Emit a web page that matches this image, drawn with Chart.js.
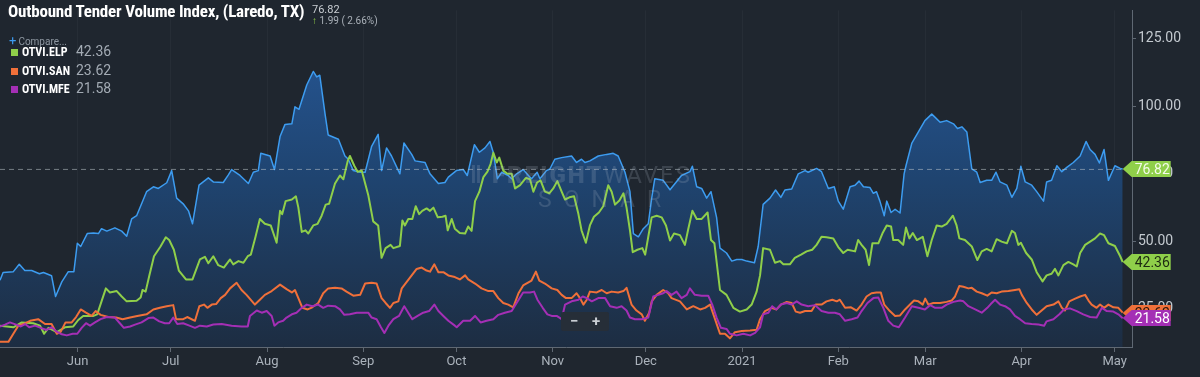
<!DOCTYPE html>
<html>
<head>
<meta charset="utf-8">
<script src="https://cdn.jsdelivr.net/npm/chart.js@4.4.1/dist/chart.umd.min.js"></script>
<style>
body{margin:0;background:#1f262f;overflow:hidden;font-family:Roboto,"Open Sans",sans-serif}
#wrap{position:relative;width:1200px;height:377px}
#myChart{position:absolute;left:0;top:0}
.title{position:absolute;left:8px;top:1px;color:#fff;font-weight:bold;font-size:17px;letter-spacing:-0.2px;
  font-family:"Roboto Condensed","Liberation Sans Narrow","DejaVu Sans Condensed",Roboto,sans-serif;font-stretch:condensed;white-space:nowrap}
.last{position:absolute;left:312px;top:3px;color:#c9ced3;font-size:11px}
.chg{position:absolute;left:312px;top:15px;color:#aab1b9;font-size:10px}
.chg span{color:#8fcf4a}
.compare{position:absolute;left:9px;top:33px;color:#8e97a1;font-size:10px}
.compare b{color:#3d9cf0;font-size:13px;font-weight:normal;margin-right:2px}
.leg{position:absolute;left:11px;font-size:12px;color:#fff;font-weight:bold;white-space:nowrap;
  font-family:"Roboto Condensed","Liberation Sans Narrow","DejaVu Sans Condensed",Roboto,sans-serif;font-stretch:condensed}
.leg i{display:inline-block;width:7px;height:7px;margin-right:4px;vertical-align:0}
.leg em{position:absolute;left:65px;top:-2px;font-style:normal;font-weight:normal;color:#a3abb4;font-size:14px;font-family:Roboto,sans-serif;font-stretch:normal}
.wm{position:absolute;left:470px;top:161px;font-size:24px;color:rgba(175,185,200,0.2);letter-spacing:2px;white-space:nowrap}
.wm b{font-weight:900}
.wm2{position:absolute;left:538px;top:186px;font-size:23px;color:rgba(175,185,200,0.2);letter-spacing:12px}
.zoomb{position:absolute;left:561px;top:312px;width:48px;height:19px;background:#262e38;border-radius:2px;color:#c9ced3;font-size:15px;font-weight:bold}
.zoomb span{position:absolute;top:0}
</style>
</head>
<body>
<div id="wrap">
<canvas id="myChart" width="1200" height="377"></canvas>
<div class="wm"><b>&#8214; FREIGHT</b>WAVES</div>
<div class="wm2">SONAR</div>
<div class="zoomb"><span style="left:9px">&minus;</span><span style="left:31px">+</span></div>
<div class="title">Outbound Tender Volume Index, (Laredo, TX)</div>
<div class="last">76.82</div>
<div class="chg"><span>&#x2191;</span> 1.99 ( 2.66%)</div>
<div class="compare"><b>+</b>Compare...</div>
<div class="leg" style="top:45px"><i style="background:#8fcf4a"></i>OTVI.ELP<em>42.36</em></div>
<div class="leg" style="top:64px"><i style="background:#f0703a"></i>OTVI.SAN<em>23.62</em></div>
<div class="leg" style="top:82px"><i style="background:#a42fb5"></i>OTVI.MFE<em>21.58</em></div>
</div>
<script>
var monthDays=[25,55,86,117,147,178,208,239,270,298,329,359]
var monthLabels=['Jun','Jul','Aug','Sep','Oct','Nov','Dec','2021','Feb','Mar','Apr','May']
var yTicks=[25,50,75,100,125]

var laredo=[[0,35.6],[1,38.5],[4.3,38.8],[6.2,41.5],[8,39.2],[10.2,39.2],[12.7,38.0],[14,38.5],[16.6,37.3],[17.9,29.6],[19.9,35.0],[22,38.8],[23.8,38.8],[24.9,49.3],[26,48.1],[28.1,52.9],[30.1,53.1],[31.7,52.9],[32.7,54.7],[34.4,53.8],[37,55.0],[39.2,53.8],[40.8,51.9],[42.4,58.3],[44,59.5],[47.2,68.4],[49.4,70.2],[51,69.6],[53.7,71.7],[55.3,76.2],[56.9,66.0],[59,63.9],[60.7,61.3],[62,56.5],[64.1,70.8],[67.1,73.5],[68.7,72.0],[71.9,71.8],[73.5,74.5],[74.6,76.6],[77.3,74.4],[80,71.4],[81.6,75.6],[83.2,76.2],[84,82.6],[87,81.6],[88.4,76.6],[90.2,88.8],[91.8,93.3],[94,93.5],[95,99.8],[96.3,98.9],[98.8,107.9],[100.9,112.9],[102,110.9],[103,111.5],[104.7,97.1],[105.7,89.4],[109,87.8],[111.1,81.6],[112.2,80.4],[113.8,76.2],[116,75.6],[117.6,75.6],[119.7,85.2],[121.8,89.6],[122.9,76.2],[124.5,84.6],[126.1,81.6],[128.8,75.0],[130.1,86.4],[132.6,82.2],[133.7,79.8],[136.9,79.2],[138.5,75.0],[141.2,71.4],[143.3,71.8],[144.4,73.8],[147,76.2],[149.2,76.6],[150.5,74.4],[152.8,85.8],[154.4,83.0],[156.2,84.6],[157.8,87.0],[158.9,82.8],[160.2,73.2],[161.6,75.6],[163.7,74.4],[164.8,73.2],[166.4,75.0],[168.5,76.6],[170.2,74.4],[171.2,73.2],[173,75.6],[173.9,73.2],[176,76.2],[177.1,76.8],[178.7,80.4],[180.9,81.0],[184.1,81.6],[185.7,79.2],[187.3,80.4],[188.4,79.2],[190,79.8],[192.7,81.6],[195.4,82.2],[197.5,82.6],[199.1,81.6],[201.3,75.6],[202.9,68.4],[204,52.9],[205.6,51.7],[207.2,54.7],[208.8,56.5],[209.9,66.0],[210.9,73.2],[213.6,72.6],[215.8,69.1],[219.5,74.4],[222.2,75.8],[223,77.8],[224.4,70.2],[226,69.6],[227.6,66.0],[229,68.4],[230.8,58.9],[231.9,47.5],[234,45.7],[235.7,42.7],[237.3,43.3],[238.9,43.3],[240.5,42.7],[243,42.1],[244.2,48.1],[245.8,63.7],[248,66.0],[249.8,69.0],[251.5,66.3],[252.8,69.0],[255,69.4],[257.1,75.0],[259.3,76.2],[260.3,75.6],[263,77.0],[264.6,75.8],[266.8,69.6],[268.7,70.2],[270,64.9],[271.6,61.9],[273.8,70.2],[275.4,70.8],[276.7,72.3],[278.1,70.2],[280.2,69.9],[281.3,67.8],[282.3,68.4],[283.4,64.9],[284.8,59.5],[285.6,64.9],[287,60.7],[288.3,61.9],[289.9,60.5],[291.2,75.0],[291.8,78.0],[293.7,86.4],[295.8,90.5],[297.9,94.7],[300.1,97.1],[301.2,95.9],[302.8,94.1],[304.9,94.7],[307.1,93.5],[308.4,91.8],[309.8,92.4],[311.4,90.5],[313,76.8],[314.6,75.6],[315.7,71.8],[317.8,72.6],[319.4,72.6],[320.8,75.6],[322.1,72.0],[324.3,70.8],[325.9,66.3],[327.5,69.6],[328.8,77.8],[330.2,72.0],[332.3,70.8],[333.9,68.4],[336.1,64.9],[337.1,72.0],[338.7,72.6],[340.4,78.0],[342,75.8],[343.6,77.4],[345.7,79.2],[347.9,81.6],[349.8,87.0],[351.1,84.0],[352.7,82.2],[354.1,79.0],[355.6,84.0],[357,72.6],[359.1,78.0],[360.8,77.0],[361.6,76.82]]

var elPaso=[[0,18.8],[4.3,18.2],[7,20.0],[10.7,19.7],[12.9,18.8],[14.2,15.8],[15.6,18.0],[18.3,16.4],[20.9,18.2],[23.6,18.5],[25.2,20.9],[26.8,22.4],[30.1,22.4],[31.3,23.0],[32.7,27.8],[34.1,32.6],[35.4,31.1],[37.6,31.6],[39.2,29.6],[40.8,27.8],[44,28.0],[45.3,29.2],[45.9,32.0],[46.9,31.4],[48.1,37.4],[49.6,44.5],[51.7,48.1],[53.4,51.5],[54.5,50.5],[56,46.9],[57.6,39.2],[59.9,35.9],[62,35.9],[64.4,43.3],[66,44.3],[67.1,41.9],[68.7,44.5],[70.3,41.2],[72.1,40.3],[74.1,43.3],[75.1,41.5],[76.8,42.7],[78.4,42.1],[79.8,44.5],[80.8,45.1],[82.3,51.7],[83.7,58.3],[85.3,56.5],[87.2,55.9],[89.1,49.5],[90.2,61.3],[90.9,60.1],[92,64.9],[94,65.5],[95.3,66.7],[96.1,62.5],[97.2,53.5],[98.4,54.1],[99.3,52.9],[100.9,55.9],[102.3,56.5],[103.6,59.5],[104.9,63.6],[106,63.9],[107.9,71.4],[109.5,74.4],[110.6,73.0],[112,79.8],[112.7,81.6],[114.1,78.0],[115.2,75.8],[116.5,76.2],[118.6,67.2],[120.2,57.4],[121.8,55.9],[122.9,43.9],[124.2,47.5],[125.8,48.7],[126.7,47.5],[128.8,48.3],[129.6,57.7],[130.4,55.9],[131.5,58.3],[132.8,58.3],[133.9,63.0],[135,60.1],[136,61.3],[137.4,62.2],[138.5,61.3],[139.6,62.5],[141,58.9],[142.5,59.1],[143.5,59.5],[144.2,54.1],[145.5,58.3],[146.5,54.7],[148.1,53.1],[149.8,52.9],[150.8,55.5],[151.9,53.9],[153,64.9],[154.4,68.4],[155.7,73.8],[157,75.8],[158,78.6],[158.9,82.8],[160,79.2],[160.8,81.0],[162.1,76.2],[163.4,75.0],[164.8,75.0],[165.9,69.6],[167.5,70.8],[169.4,73.5],[170.7,73.0],[171.8,68.4],[173,71.8],[174.1,72.6],[175.5,68.4],[176.9,67.8],[178.2,69.6],[179.5,72.3],[180.9,68.4],[182,65.5],[183.4,66.3],[184.9,66.7],[186.3,60.1],[187.3,54.1],[188.7,49.5],[190,55.9],[191.3,59.1],[192.9,60.7],[194.3,63.0],[195.9,70.8],[197,68.4],[198.1,63.6],[199.5,65.1],[200.8,67.8],[201.8,62.5],[202.9,54.1],[203.8,46.0],[205.3,46.9],[206.9,47.5],[207.8,45.1],[208.8,51.7],[209.9,58.9],[211.5,59.5],[213.1,58.9],[214.5,55.9],[215.8,50.3],[217.1,52.9],[219,52.3],[220.6,48.7],[221.7,54.7],[223,61.3],[224.4,58.3],[226,58.3],[227.9,60.7],[229,50.5],[230.1,49.3],[231.9,32.0],[234,30.2],[236.2,25.4],[238.3,24.0],[240.5,24.8],[242.1,26.6],[243.7,31.4],[244.8,37.4],[245.8,47.5],[248,46.9],[249.6,42.1],[251.2,42.7],[252.3,41.5],[254.4,41.5],[256,43.9],[258,45.1],[259.8,46.3],[261.6,46.9],[263,48.7],[264.6,51.7],[266.2,51.5],[268.4,51.1],[270,47.9],[271.6,45.7],[273,46.9],[275.4,46.3],[276.4,50.5],[277.5,48.7],[278.8,46.9],[279.9,41.2],[281,49.3],[282.9,49.3],[284.2,52.9],[285.6,55.9],[287,55.5],[287.7,50.5],[289.3,50.5],[290.9,48.7],[291.8,55.1],[292.9,51.1],[294,53.1],[295.3,50.5],[297.2,51.7],[298.7,44.5],[300.1,50.5],[301.7,55.9],[303.3,55.5],[304.9,56.5],[306.9,59.5],[308.1,55.9],[309,51.1],[310.8,50.5],[313,48.1],[314.8,43.1],[316.2,46.3],[317.8,47.2],[319.4,46.3],[321,50.8],[322.6,49.9],[324.3,49.3],[325.9,53.9],[326.9,53.1],[328,48.7],[328.8,49.5],[330.5,45.7],[332.3,43.3],[333.9,38.6],[335.8,35.2],[337.1,37.4],[338.7,38.0],[339.8,39.8],[340.9,37.4],[342.5,41.2],[344.1,42.4],[345.7,41.5],[346.8,40.7],[347.9,45.7],[349.5,48.7],[351.1,49.9],[352.7,51.1],[354.3,52.9],[355.6,52.3],[357,49.3],[359.1,48.3],[360.8,44.5],[361.6,42.36]]

var sanAntonio=[[0,12.8],[2.7,12.8],[4.3,15.8],[5.9,18.8],[7.5,19.4],[9.7,20.6],[12.3,21.2],[14.5,19.4],[16.6,19.4],[18.3,15.8],[19.5,16.4],[21.1,20.0],[23.1,20.0],[24.5,22.0],[26,24.8],[27.7,23.6],[29.5,22.4],[30.8,24.2],[32.4,22.8],[34.9,22.0],[37.4,21.8],[39.5,21.2],[41.9,21.8],[44.2,22.4],[47.2,23.0],[49.4,24.8],[51.5,25.4],[53.7,26.0],[55.8,26.4],[56.7,21.2],[59,21.2],[60.3,22.0],[62.8,20.6],[64.2,26.0],[65.7,26.6],[66.8,25.4],[68.2,26.6],[69.6,26.8],[71.1,29.0],[72.5,30.2],[74.1,32.6],[76.2,34.7],[77.8,32.0],[79.4,30.2],[82.1,26.6],[83.7,28.4],[85.3,30.2],[87.5,31.6],[90.2,34.0],[92.3,32.3],[94,31.1],[95,32.0],[96.1,29.0],[97.4,25.4],[99.1,24.8],[100.6,25.6],[102.5,27.2],[104.1,30.8],[105.7,32.6],[107.9,32.8],[110,32.6],[111.6,31.4],[113.8,29.9],[116,30.2],[117.6,34.4],[119.7,34.7],[121.3,34.4],[122.9,29.0],[124.2,27.2],[125.6,25.4],[126.7,27.2],[128.3,27.8],[129.4,32.6],[131,35.0],[132.6,37.4],[134.2,39.8],[135.8,40.3],[137.4,39.2],[138.5,38.8],[139.9,41.5],[141.2,38.6],[142.8,38.6],[144.4,37.4],[146.5,36.8],[148.1,35.9],[149.8,37.4],[150.8,35.9],[153,34.4],[155.1,32.6],[157.3,31.6],[158.9,31.6],[160.5,29.0],[162.1,27.2],[163.7,26.6],[165.3,25.6],[167,30.8],[168.5,33.7],[171.2,35.5],[172.6,38.8],[173.7,35.5],[175.5,34.4],[177.7,32.6],[179.5,32.0],[180.9,30.2],[182.3,29.0],[184.1,29.0],[185.7,30.8],[186.8,29.0],[187.9,26.6],[189,28.4],[190,31.4],[192.2,31.1],[193.8,32.0],[195.4,30.8],[197,31.4],[199.1,31.1],[200.8,31.6],[201.8,32.8],[203.4,26.6],[205,24.4],[206.7,23.0],[207.7,20.6],[209.1,23.6],[209.9,27.8],[211.5,30.2],[213.6,32.0],[215.2,30.8],[216.3,29.0],[219,27.8],[221.2,24.8],[223.3,26.0],[225.5,24.8],[227.1,25.4],[228.7,26.6],[230.3,21.2],[231.9,15.8],[233.5,15.8],[235.1,14.1],[236.7,16.4],[238.9,16.8],[241.6,17.0],[243.7,17.3],[244.8,21.2],[246.4,24.2],[248.5,25.4],[250.1,24.8],[251.5,26.6],[253.4,27.6],[255,27.2],[256.3,24.0],[257.7,23.6],[259.3,24.2],[261.4,24.2],[262.7,26.6],[264.6,26.6],[266.2,27.8],[268.1,28.4],[269.5,27.8],[270.5,28.4],[272.2,25.4],[274.1,25.6],[275.9,24.4],[277.5,26.6],[279.1,29.6],[280.7,30.8],[282.3,31.1],[283.7,31.1],[284.8,26.6],[286.6,24.2],[288.3,22.4],[289.9,22.6],[291.5,24.8],[293.1,26.6],[294.4,28.1],[295.8,27.8],[297.2,26.6],[298,28.8],[299,26.6],[300.6,27.2],[302.8,27.2],[304.9,27.6],[306.5,28.1],[307.6,29.6],[309,33.5],[310.3,33.2],[311.9,32.6],[313,32.8],[314.6,31.4],[316.2,30.8],[318,29.9],[319.4,31.1],[321,30.8],[322.6,31.4],[324.8,31.6],[326.9,32.0],[328.3,32.3],[329.1,30.2],[330.7,27.2],[332.3,24.8],[333.9,22.8],[335.5,24.4],[337.1,26.0],[339.3,26.6],[340.9,27.8],[342,25.4],[343,24.4],[344.4,27.8],[346.3,28.8],[347.9,29.6],[349.5,30.2],[350.6,28.1],[351.6,26.6],[353.2,25.4],[354.3,26.6],[355.6,25.4],[357,26.6],[358.6,25.6],[360.2,25.4],[361.6,23.62]]

var mcAllen=[[0,18.5],[1.6,19.2],[3.2,20.0],[5.2,19.2],[6.7,18.5],[8.1,19.4],[9.4,18.2],[11.3,18.8],[13.1,18.0],[15,17.2],[16.6,18.2],[18,16.8],[19.9,15.6],[21.5,15.2],[23.4,15.8],[24.9,15.8],[26.3,18.0],[27.7,19.7],[29,18.8],[30.6,20.0],[32.4,21.2],[34.4,22.0],[37,21.8],[38.6,19.7],[39.9,18.0],[41.9,18.5],[43.5,19.2],[45.6,20.0],[47.8,21.6],[49.4,21.8],[51.3,20.4],[53.1,19.7],[54.5,19.7],[55.8,21.8],[57.1,19.4],[59,19.7],[61,18.8],[62.8,18.0],[64.4,18.8],[66.6,18.5],[68.7,19.2],[71.4,19.4],[74.6,18.8],[77.8,18.5],[79.8,18.5],[80.5,22.4],[82.7,24.4],[84.3,23.6],[85.9,24.2],[87.5,22.4],[88.4,18.8],[89.6,20.0],[91.2,20.6],[92.3,21.8],[94,23.0],[95.5,23.6],[97.2,25.4],[98.8,26.6],[100.6,26.0],[102.5,26.6],[104.1,25.4],[105.7,26.2],[107.9,26.0],[109.5,24.8],[110.9,22.8],[112.7,23.0],[114.9,23.6],[117,23.6],[118.6,23.6],[119.7,21.8],[121.3,21.2],[122.7,18.2],[123.8,16.1],[125.1,18.8],[126.7,21.2],[128.5,22.4],[130.2,26.0],[131.5,23.6],[132.8,21.2],[134.5,22.4],[136.3,23.6],[138.2,24.2],[139.9,26.6],[141.2,24.2],[142.8,22.4],[144.4,20.6],[146.5,18.8],[147.1,18.2],[149.2,20.6],[151.4,20.6],[153,22.4],[154.8,20.0],[156.7,20.6],[158.9,21.2],[160.5,22.8],[162.6,23.6],[164.8,24.2],[166.4,27.2],[168.5,31.1],[170.7,31.1],[172,31.4],[173.1,28.4],[174.8,25.4],[176.3,23.0],[177.7,22.4],[179.3,22.4],[180.9,21.2],[182,26.6],[184.1,27.8],[186.3,28.4],[187.7,29.6],[189,29.0],[190.6,27.8],[192.7,29.0],[194.9,29.0],[196.5,26.0],[198.6,25.4],[200.2,26.0],[201.8,24.4],[202.9,21.8],[204.5,21.2],[206.7,21.2],[208.8,21.8],[210.4,29.6],[212,30.2],[213.6,30.8],[214.7,31.6],[216.3,30.2],[217.9,31.4],[219.5,29.0],[221.2,30.2],[222.2,32.6],[223.8,30.2],[226,29.9],[228.1,29.9],[229.4,26.6],[230.8,21.8],[232.2,18.0],[234,17.6],[235.1,15.8],[237.3,15.2],[239.4,15.8],[241.6,15.2],[243.2,16.1],[244.8,18.2],[245.8,23.0],[247.5,23.6],[248.7,26.0],[250.1,24.8],[251.5,26.6],[253.4,27.2],[255,26.6],[256.6,27.8],[258.2,26.6],[260.3,26.0],[262.5,26.4],[264.6,24.2],[266.8,23.6],[268.9,23.6],[270.5,23.0],[272.2,20.6],[274.3,21.2],[276.2,21.8],[277.5,24.2],[279.4,27.2],[281.3,29.0],[282.9,29.2],[284.5,25.4],[286.1,20.6],[287.7,18.8],[289.5,18.2],[291.5,21.8],[293.7,26.0],[295.8,25.4],[297.9,24.8],[299.6,26.4],[301.2,25.4],[303.3,25.4],[304.9,26.6],[307.1,27.6],[309.2,28.1],[310.3,27.8],[311.9,26.0],[314.1,24.8],[316.2,23.6],[318,25.4],[319.1,26.8],[320.5,28.4],[322.1,26.6],[323.7,26.0],[325.3,24.8],[326.9,22.4],[328.5,21.2],[330.2,19.7],[332.3,19.4],[334.5,19.2],[336.3,18.8],[337.1,20.4],[339.3,21.2],[341.2,23.0],[342.7,24.8],[344.6,25.2],[346.8,24.2],[348.9,23.0],[351.1,22.0],[353.2,21.8],[354.9,25.4],[356.5,24.2],[358.6,24.0],[360.2,23.0],[361.6,21.58]]

// last-value tags on the right: value, box colour, text colour
var lastTags=[[76.82,'#8fcf4a','#f4fbe9'],[42.36,'#8fcf4a','#1d2a12'],[23.62,'#f0703a','#2a160c'],[21.58,'#a42fb5','#ffffff']]

function pts(arr){ return arr.map(function(p){ return {x:p[0],y:p[1]} }) }

var tagPlugin={
  id:'tags',
  afterDatasetsDraw:function(chart){
    var c=chart.ctx, a=chart.chartArea, y=chart.scales.y
    var py=y.getPixelForValue(lastTags[0][0])
    c.save()
    c.strokeStyle='rgba(190,196,204,0.55)'
    c.lineWidth=1
    c.setLineDash([5,4])
    c.beginPath(); c.moveTo(a.left,py+0.5); c.lineTo(a.right,py+0.5); c.stroke()
    c.restore()
  },
  afterDraw:function(chart){
    var c=chart.ctx, y=chart.scales.y, x=chart.scales.x
    var tip=x.getPixelForValue(laredo[laredo.length-1][0])
    c.save()
    c.font='14px Roboto'
    c.textBaseline='middle'
    lastTags.forEach(function(t){
      var py=Math.round(y.getPixelForValue(t[0]))
      c.fillStyle=t[1]
      c.beginPath()
      c.moveTo(tip,py); c.lineTo(tip+9,py-8); c.lineTo(tip+48,py-8)
      c.lineTo(tip+48,py+8); c.lineTo(tip+9,py+8); c.closePath(); c.fill()
      c.fillStyle=t[2]
      c.fillText(t[0].toFixed(2),tip+12,py+1)
    })
    c.restore()
  }
}

var ctx=document.getElementById('myChart').getContext('2d')
var chart=new Chart(ctx,{
  type:'line',
  data:{
    datasets:[
      {label:'OTVI.MFE',data:pts(mcAllen),borderColor:'#a42fb5',borderWidth:2,order:1},
      {label:'OTVI.SAN',data:pts(sanAntonio),borderColor:'#f0703a',borderWidth:2,order:2},
      {label:'OTVI.ELP',data:pts(elPaso),borderColor:'#8fcf4a',borderWidth:2,order:3},
      {label:'OTVI.LRD',data:pts(laredo),borderColor:'#3d9cf0',borderWidth:1.5,order:4,fill:'start',
        backgroundColor:function(context){
          var a=context.chart.chartArea
          if(!a) return 'rgba(35,80,140,0.8)'
          var g=context.chart.ctx.createLinearGradient(0,a.top,0,a.bottom)
          g.addColorStop(0,'#27599a')
          g.addColorStop(0.5,'#1f4470')
          g.addColorStop(1,'#1d2d42')
          return g
        }}
    ]
  },
  options:{
    responsive:false,
    animation:false,
    devicePixelRatio:1,
    layout:{padding:0},
    elements:{point:{radius:0},line:{tension:0,borderJoinStyle:'round'}},
    plugins:{legend:{display:false},tooltip:{enabled:false}},
    scales:{
      x:{
        type:'linear',min:0,max:364.6,
        afterBuildTicks:function(s){ s.ticks=monthDays.map(function(d){ return {value:d} }) },
        afterFit:function(s){ s.height=30 },
        grid:{color:'rgba(255,255,255,0.035)',tickColor:'#5f6873',tickLength:5},
        border:{color:'#5f6873'},
        ticks:{color:'#aab2bb',font:{family:'Roboto',size:13},padding:2,maxRotation:0,autoSkip:false,
          callback:function(v){ return monthLabels[monthDays.indexOf(v)] }}
      },
      y:{
        position:'right',min:10.9,max:135.5,
        afterBuildTicks:function(s){ s.ticks=yTicks.map(function(v){ return {value:v} }) },
        afterFit:function(s){ s.width=68 },
        grid:{drawOnChartArea:false,tickColor:'#5f6873',tickLength:4},
        border:{color:'#5f6873'},
        ticks:{color:'#c3c9cf',font:{family:'Roboto',size:14},padding:2,
          callback:function(v){ return v.toFixed(2) }}
      }
    }
  },
  plugins:[tagPlugin]
})
</script>
</body>
</html>
